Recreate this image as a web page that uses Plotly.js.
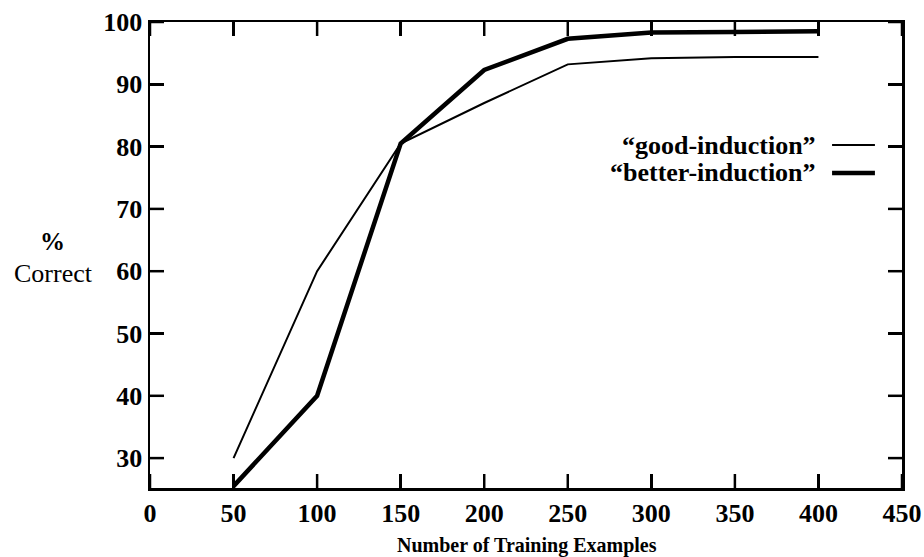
<!DOCTYPE html>
<html>
<head>
<meta charset="utf-8">
<script src="https://cdn.plot.ly/plotly-3.0.1.min.js"></script>
<style>html,body{margin:0;padding:0;background:#fff}#chart{width:924px;height:557px}</style>
</head>
<body>
<div id="chart"></div>
<script>
const trainingExamples = [50, 100, 150, 200, 250, 300, 350, 400];
const goodInduction = [30, 60, 80.5, 87, 93.2, 94.2, 94.4, 94.4];
const betterInduction = [25.5, 40, 80.5, 92.3, 97.3, 98.3, 98.4, 98.5];
const seriesNames = ['\u201cgood-induction\u201d', '\u201cbetter-induction\u201d'];
const xTicks = [0, 50, 100, 150, 200, 250, 300, 350, 400, 450];
const yTicks = [30, 40, 50, 60, 70, 80, 90, 100];

const FONT = 'Liberation Serif, serif';
const W = 924, H = 557, M = {l: 150, r: 22, t: 22, b: 69};
const X_RANGE = [0, 450], Y_RANGE = [25.2, 100];
const TICKLEN_PX = 14;
// tick length converted into each axis's own units
const dyTick = TICKLEN_PX * (Y_RANGE[1] - Y_RANGE[0]) / (H - M.t - M.b);
const dxTick = TICKLEN_PX * (X_RANGE[1] - X_RANGE[0]) / (W - M.l - M.r);

const tx = [], ty = [];
xTicks.forEach(v => {
  tx.push(v, v, null, v, v, null);
  ty.push(Y_RANGE[0], Y_RANGE[0] + dyTick, null, Y_RANGE[1], Y_RANGE[1] - dyTick, null);
});
yTicks.forEach(v => {
  tx.push(X_RANGE[0], X_RANGE[0] + dxTick, null, X_RANGE[1], X_RANGE[1] - dxTick, null);
  ty.push(v, v, null, v, v, null);
});

const traces = [
  {x: tx, y: ty, mode: 'lines', line: {color: '#000', width: 2.5}, hoverinfo: 'skip',
   connectgaps: false, showlegend: false},
  {x: trainingExamples, y: goodInduction, mode: 'lines', name: seriesNames[0],
   line: {color: '#000', width: 2}},
  {x: trainingExamples, y: betterInduction, mode: 'lines', name: seriesNames[1],
   line: {color: '#000', width: 4.5}}
];
const axisCommon = {
  showline: true, linecolor: '#000', linewidth: 2.5, mirror: 'allticks',
  ticks: 'inside', ticklen: TICKLEN_PX, tickwidth: 2.5, tickcolor: '#000',
  showgrid: false, zeroline: false,
  tickfont: {family: FONT, size: 26, color: '#000', weight: 'bold'}
};

const layout = {
  width: W, height: H,
  margin: M,
  paper_bgcolor: '#fff', plot_bgcolor: '#fff',
  showlegend: false,
  font: {family: FONT, color: '#000'},
  xaxis: Object.assign({}, axisCommon, {range: X_RANGE, tickvals: xTicks, ticktext: xTicks.map(String)}),
  yaxis: Object.assign({}, axisCommon, {range: Y_RANGE, tickvals: yTicks, ticktext: yTicks.map(String)}),
  annotations: [
    {xref: 'paper', yref: 'paper', x: 0.888, y: 0.736, xanchor: 'right', yanchor: 'middle',
     text: '<b>' + seriesNames[0] + '</b>', showarrow: false, font: {family: FONT, size: 26, color: '#000'}},
    {xref: 'paper', yref: 'paper', x: 0.888, y: 0.676, xanchor: 'right', yanchor: 'middle',
     text: '<b>' + seriesNames[1] + '</b>', showarrow: false, font: {family: FONT, size: 26, color: '#000'}},
    {xref: 'paper', yref: 'paper', x: -0.13, y: 0.53, xanchor: 'center', yanchor: 'middle',
     text: '<b>%</b>', showarrow: false, font: {family: FONT, size: 25, color: '#000'}},
    {xref: 'paper', yref: 'paper', x: -0.128, y: 0.46, xanchor: 'center', yanchor: 'middle',
     text: 'Correct', showarrow: false, font: {family: FONT, size: 26, color: '#000'}},
    {xref: 'paper', yref: 'paper', x: 0.501, y: -0.124, xanchor: 'center', yanchor: 'middle',
     text: '<b>Number of Training Examples</b>', showarrow: false, font: {family: FONT, size: 20, color: '#000'}}
  ],
  shapes: [
    {type: 'line', xref: 'paper', yref: 'paper', x0: 0.907, x1: 0.964, y0: 0.736, y1: 0.736,
     line: {color: '#000', width: 2}},
    {type: 'line', xref: 'paper', yref: 'paper', x0: 0.907, x1: 0.964, y0: 0.676, y1: 0.676,
     line: {color: '#000', width: 4.5}}
  ]
};
Plotly.newPlot('chart', traces, layout, {displayModeBar: false, staticPlot: true});
</script>
</body>
</html>
